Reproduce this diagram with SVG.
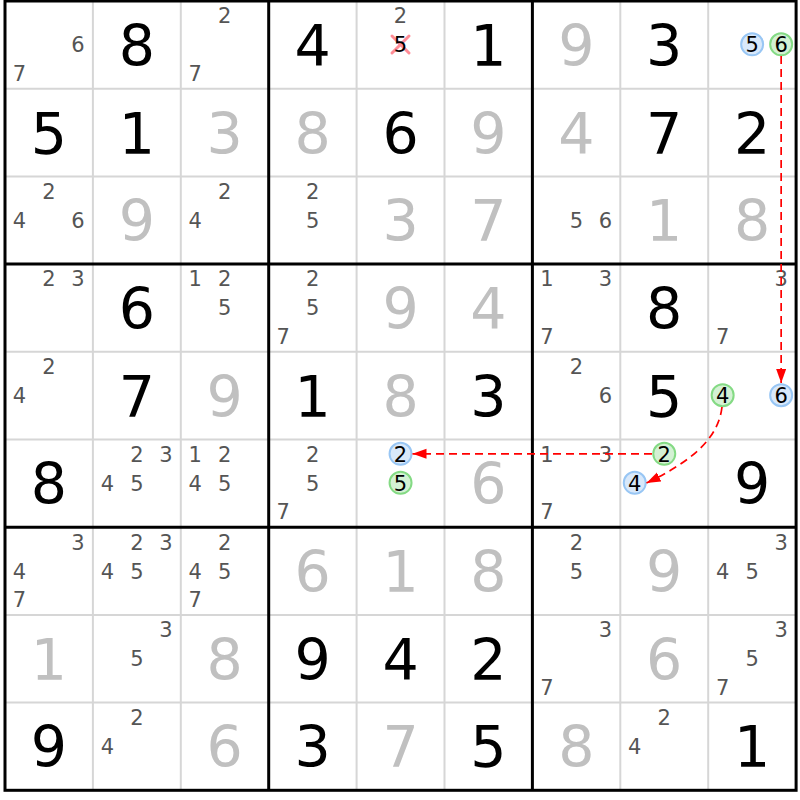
<svg xmlns="http://www.w3.org/2000/svg" width="800" height="800" viewBox="0 0 800 800">
<style>
text{font-family:"DejaVu Sans","Verdana",sans-serif;text-anchor:middle}
.g{font-size:57px;fill:#000}
.s{font-size:57px;fill:#c0c0c0}
.c{font-size:21px;fill:#555}
.h{font-size:21px;fill:#000}
.thin{stroke:#d6d6d6;stroke-width:2}
.thick{stroke:#000;stroke-width:3}
.cb{fill:#d8e8fa;stroke:#98c6f4;stroke-width:2}
.cg{fill:#d4f1d4;stroke:#84da84;stroke-width:2}
.x{stroke:#ff8c96;stroke-width:3;stroke-linecap:round}
.lk{fill:none;stroke:#ff0000;stroke-width:1.7;stroke-dasharray:8 5;marker-end:url(#ah)}
</style>
<defs>
<marker id="ah" markerUnits="userSpaceOnUse" markerWidth="15" markerHeight="11" refX="14" refY="5" orient="auto"><path d="M0,0 L14,5 L0,10 z" fill="#ff0000"/></marker>
</defs>
<rect width="800" height="800" fill="#fff"/>
<g id="grid">
<line class="thin" x1="92.9" y1="1" x2="92.9" y2="790.3"/>
<line class="thin" x1="180.8" y1="1" x2="180.8" y2="790.3"/>
<line class="thin" x1="356.6" y1="1" x2="356.6" y2="790.3"/>
<line class="thin" x1="444.5" y1="1" x2="444.5" y2="790.3"/>
<line class="thin" x1="620.3" y1="1" x2="620.3" y2="790.3"/>
<line class="thin" x1="708.2" y1="1" x2="708.2" y2="790.3"/>
<line class="thin" x1="5" y1="88.7" x2="796.1" y2="88.7"/>
<line class="thin" x1="5" y1="176.4" x2="796.1" y2="176.4"/>
<line class="thin" x1="5" y1="351.8" x2="796.1" y2="351.8"/>
<line class="thin" x1="5" y1="439.5" x2="796.1" y2="439.5"/>
<line class="thin" x1="5" y1="614.9" x2="796.1" y2="614.9"/>
<line class="thin" x1="5" y1="702.6" x2="796.1" y2="702.6"/>
<line class="thick" x1="268.7" y1="1" x2="268.7" y2="790.3"/>
<line class="thick" x1="532.4" y1="1" x2="532.4" y2="790.3"/>
<line class="thick" x1="5" y1="264.1" x2="796.1" y2="264.1"/>
<line class="thick" x1="5" y1="527.2" x2="796.1" y2="527.2"/>
<rect x="5" y="1" width="791.1" height="789.3" fill="none" stroke="#000" stroke-width="3"/>
</g>
<g id="r0c0"><text class="c" x="77.95" y="52.35">6</text><text class="c" x="19.45" y="80.85">7</text></g>
<g id="r0c1"><text class="g" x="136.85" y="65.85">8</text></g>
<g id="r0c2"><text class="c" x="224.75" y="23.35">2</text><text class="c" x="195.25" y="80.85">7</text></g>
<g id="r0c3"><text class="g" x="312.65" y="65.85">4</text></g>
<g id="r0c4"><text class="c" x="400.55" y="23.35">2</text><line class="x" x1="392" y1="36" x2="409" y2="53"/><line class="x" x1="409" y1="36" x2="392" y2="53"/><text class="h" x="400.55" y="52.35">5</text></g>
<g id="r0c5"><text class="g" x="488.45" y="65.85">1</text></g>
<g id="r0c6"><text class="s" x="576.35" y="65.85">9</text></g>
<g id="r0c7"><text class="g" x="664.25" y="65.85">3</text></g>
<g id="r0c8"><circle class="cb" cx="752.15" cy="44.35" r="11"/><text class="h" x="752.15" y="52.35">5</text><circle class="cg" cx="781.15" cy="44.35" r="11"/><text class="h" x="781.15" y="52.35">6</text></g>
<g id="r1c0"><text class="g" x="48.95" y="153.55">5</text></g>
<g id="r1c1"><text class="g" x="136.85" y="153.55">1</text></g>
<g id="r1c2"><text class="s" x="224.75" y="153.55">3</text></g>
<g id="r1c3"><text class="s" x="312.65" y="153.55">8</text></g>
<g id="r1c4"><text class="g" x="400.55" y="153.55">6</text></g>
<g id="r1c5"><text class="s" x="488.45" y="153.55">9</text></g>
<g id="r1c6"><text class="s" x="576.35" y="153.55">4</text></g>
<g id="r1c7"><text class="g" x="664.25" y="153.55">7</text></g>
<g id="r1c8"><text class="g" x="752.15" y="153.55">2</text></g>
<g id="r2c0"><text class="c" x="48.95" y="198.75">2</text><text class="c" x="19.45" y="227.75">4</text><text class="c" x="77.95" y="227.75">6</text></g>
<g id="r2c1"><text class="s" x="136.85" y="241.25">9</text></g>
<g id="r2c2"><text class="c" x="224.75" y="198.75">2</text><text class="c" x="195.25" y="227.75">4</text></g>
<g id="r2c3"><text class="c" x="312.65" y="198.75">2</text><text class="c" x="312.65" y="227.75">5</text></g>
<g id="r2c4"><text class="s" x="400.55" y="241.25">3</text></g>
<g id="r2c5"><text class="s" x="488.45" y="241.25">7</text></g>
<g id="r2c6"><text class="c" x="576.35" y="227.75">5</text><text class="c" x="605.35" y="227.75">6</text></g>
<g id="r2c7"><text class="s" x="664.25" y="241.25">1</text></g>
<g id="r2c8"><text class="s" x="752.15" y="241.25">8</text></g>
<g id="r3c0"><text class="c" x="48.95" y="286.45">2</text><text class="c" x="77.95" y="286.45">3</text></g>
<g id="r3c1"><text class="g" x="136.85" y="328.95">6</text></g>
<g id="r3c2"><text class="c" x="195.25" y="286.45">1</text><text class="c" x="224.75" y="286.45">2</text><text class="c" x="224.75" y="315.45">5</text></g>
<g id="r3c3"><text class="c" x="312.65" y="286.45">2</text><text class="c" x="312.65" y="315.45">5</text><text class="c" x="283.15" y="343.95">7</text></g>
<g id="r3c4"><text class="s" x="400.55" y="328.95">9</text></g>
<g id="r3c5"><text class="s" x="488.45" y="328.95">4</text></g>
<g id="r3c6"><text class="c" x="546.85" y="286.45">1</text><text class="c" x="605.35" y="286.45">3</text><text class="c" x="546.85" y="343.95">7</text></g>
<g id="r3c7"><text class="g" x="664.25" y="328.95">8</text></g>
<g id="r3c8"><text class="c" x="781.15" y="286.45">3</text><text class="c" x="722.65" y="343.95">7</text></g>
<g id="r4c0"><text class="c" x="48.95" y="374.15">2</text><text class="c" x="19.45" y="403.15">4</text></g>
<g id="r4c1"><text class="g" x="136.85" y="416.65">7</text></g>
<g id="r4c2"><text class="s" x="224.75" y="416.65">9</text></g>
<g id="r4c3"><text class="g" x="312.65" y="416.65">1</text></g>
<g id="r4c4"><text class="s" x="400.55" y="416.65">8</text></g>
<g id="r4c5"><text class="g" x="488.45" y="416.65">3</text></g>
<g id="r4c6"><text class="c" x="576.35" y="374.15">2</text><text class="c" x="605.35" y="403.15">6</text></g>
<g id="r4c7"><text class="g" x="664.25" y="416.65">5</text></g>
<g id="r4c8"><circle class="cg" cx="722.65" cy="395.15" r="11"/><text class="h" x="722.65" y="403.15">4</text><circle class="cb" cx="781.15" cy="395.15" r="11"/><text class="h" x="781.15" y="403.15">6</text></g>
<g id="r5c0"><text class="g" x="48.95" y="504.35">8</text></g>
<g id="r5c1"><text class="c" x="136.85" y="461.85">2</text><text class="c" x="165.85" y="461.85">3</text><text class="c" x="107.35" y="490.85">4</text><text class="c" x="136.85" y="490.85">5</text></g>
<g id="r5c2"><text class="c" x="195.25" y="461.85">1</text><text class="c" x="224.75" y="461.85">2</text><text class="c" x="195.25" y="490.85">4</text><text class="c" x="224.75" y="490.85">5</text></g>
<g id="r5c3"><text class="c" x="312.65" y="461.85">2</text><text class="c" x="312.65" y="490.85">5</text><text class="c" x="283.15" y="519.35">7</text></g>
<g id="r5c4"><circle class="cb" cx="400.55" cy="453.85" r="11"/><text class="h" x="400.55" y="461.85">2</text><circle class="cg" cx="400.55" cy="482.85" r="11"/><text class="h" x="400.55" y="490.85">5</text></g>
<g id="r5c5"><text class="s" x="488.45" y="504.35">6</text></g>
<g id="r5c6"><text class="c" x="546.85" y="461.85">1</text><text class="c" x="605.35" y="461.85">3</text><text class="c" x="546.85" y="519.35">7</text></g>
<g id="r5c7"><circle class="cg" cx="664.25" cy="453.85" r="11"/><text class="h" x="664.25" y="461.85">2</text><circle class="cb" cx="634.75" cy="482.85" r="11"/><text class="h" x="634.75" y="490.85">4</text></g>
<g id="r5c8"><text class="g" x="752.15" y="504.35">9</text></g>
<g id="r6c0"><text class="c" x="77.95" y="549.55">3</text><text class="c" x="19.45" y="578.55">4</text><text class="c" x="19.45" y="607.05">7</text></g>
<g id="r6c1"><text class="c" x="136.85" y="549.55">2</text><text class="c" x="165.85" y="549.55">3</text><text class="c" x="107.35" y="578.55">4</text><text class="c" x="136.85" y="578.55">5</text></g>
<g id="r6c2"><text class="c" x="224.75" y="549.55">2</text><text class="c" x="195.25" y="578.55">4</text><text class="c" x="224.75" y="578.55">5</text><text class="c" x="195.25" y="607.05">7</text></g>
<g id="r6c3"><text class="s" x="312.65" y="592.05">6</text></g>
<g id="r6c4"><text class="s" x="400.55" y="592.05">1</text></g>
<g id="r6c5"><text class="s" x="488.45" y="592.05">8</text></g>
<g id="r6c6"><text class="c" x="576.35" y="549.55">2</text><text class="c" x="576.35" y="578.55">5</text></g>
<g id="r6c7"><text class="s" x="664.25" y="592.05">9</text></g>
<g id="r6c8"><text class="c" x="781.15" y="549.55">3</text><text class="c" x="722.65" y="578.55">4</text><text class="c" x="752.15" y="578.55">5</text></g>
<g id="r7c0"><text class="s" x="48.95" y="679.75">1</text></g>
<g id="r7c1"><text class="c" x="165.85" y="637.25">3</text><text class="c" x="136.85" y="666.25">5</text></g>
<g id="r7c2"><text class="s" x="224.75" y="679.75">8</text></g>
<g id="r7c3"><text class="g" x="312.65" y="679.75">9</text></g>
<g id="r7c4"><text class="g" x="400.55" y="679.75">4</text></g>
<g id="r7c5"><text class="g" x="488.45" y="679.75">2</text></g>
<g id="r7c6"><text class="c" x="605.35" y="637.25">3</text><text class="c" x="546.85" y="694.75">7</text></g>
<g id="r7c7"><text class="s" x="664.25" y="679.75">6</text></g>
<g id="r7c8"><text class="c" x="781.15" y="637.25">3</text><text class="c" x="752.15" y="666.25">5</text><text class="c" x="722.65" y="694.75">7</text></g>
<g id="r8c0"><text class="g" x="48.95" y="767.45">9</text></g>
<g id="r8c1"><text class="c" x="136.85" y="724.95">2</text><text class="c" x="107.35" y="753.95">4</text></g>
<g id="r8c2"><text class="s" x="224.75" y="767.45">6</text></g>
<g id="r8c3"><text class="g" x="312.65" y="767.45">3</text></g>
<g id="r8c4"><text class="s" x="400.55" y="767.45">7</text></g>
<g id="r8c5"><text class="g" x="488.45" y="767.45">5</text></g>
<g id="r8c6"><text class="s" x="576.35" y="767.45">8</text></g>
<g id="r8c7"><text class="c" x="664.25" y="724.95">2</text><text class="c" x="634.75" y="753.95">4</text></g>
<g id="r8c8"><text class="g" x="752.15" y="767.45">1</text></g>
<g id="connectors">
<path class="lk" d="M781.15,56 L781.15,383"/>
<path class="lk" d="M652,453.85 L412.5,453.85"/>
<path class="lk" d="M722,407 C718,440 690,462 646.5,483"/>
</g>
</svg>
